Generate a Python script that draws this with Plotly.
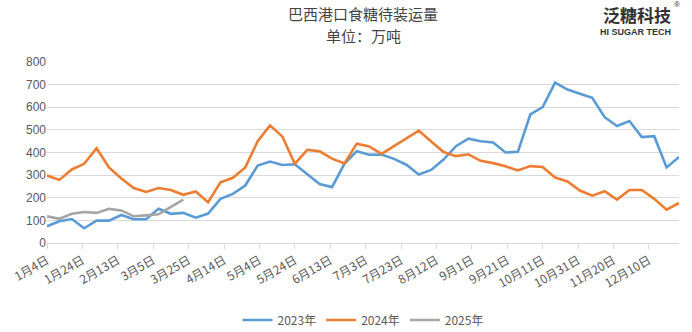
import pandas as pd
import plotly.graph_objects as go

# ---- data ----
start_date = "2023-01-04"
y2023 = [74, 96, 106, 65, 99, 99, 124, 105, 105, 151, 129, 133, 112, 130, 195, 217, 254,
         342, 360, 345, 348, 304, 261, 247, 350, 406, 390, 391, 372, 346, 303, 323, 369,
         428, 461, 450, 444, 400, 403, 568, 601, 709, 678, 660, 642, 556, 517, 539, 468,
         472, 334, 380]
y2024 = [298, 279, 325, 350, 419, 334, 285, 243, 226, 243, 234, 213, 228, 180, 268, 288,
         334, 450, 520, 470, 350, 412, 405, 373, 352, 439, 427, 394, 428, 463, 497, 449,
         402, 384, 392, 363, 353, 339, 321, 340, 336, 289, 272, 232, 209, 229, 192, 234,
         234, 195, 147, 177]
y2025 = [118, 107, 129, 137, 133, 151, 144, 118, 122, 127, 160, 192]
series_names = ["2023年", "2024年", "2025年"]
tick_labels = ["1月4日", "1月24日", "2月13日", "3月5日", "3月25日", "4月14日", "5月4日",
               "5月24日", "6月13日", "7月3日", "7月23日", "8月12日", "9月1日", "9月21日",
               "10月11日", "10月31日", "11月20日", "12月10日"]
y_ticks = [0, 100, 200, 300, 400, 500, 600, 700, 800]
title_text = "巴西港口食糖待装运量"
subtitle_text = "单位：万吨"

dates = pd.date_range(start_date, periods=len(y2023), freq="7D")
tick_dates = pd.date_range(start_date, periods=len(tick_labels), freq="20D")

colors = ["#5B9BD5", "#ED7D31", "#A5A5A5"]
font_cjk = "Noto Sans CJK SC"

fig = go.Figure()
for name, ys, c in zip(series_names, [y2023, y2024, y2025], colors):
    fig.add_trace(go.Scatter(x=dates[:len(ys)], y=ys, mode="lines", name=name,
                             line=dict(color=c, width=2.6)))

fig.update_layout(
    width=692, height=332,
    margin=dict(l=47, r=13, t=62, b=89, autoexpand=False),
    paper_bgcolor="white", plot_bgcolor="white",
    font=dict(family=font_cjk, color="#595959", size=12),
    showlegend=True,
    legend=dict(orientation="h", x=0.5, xanchor="center", yref="container",
                y=0.036, yanchor="middle",
                font=dict(size=12, color="#595959", family=font_cjk),
                itemwidth=30, tracegroupgap=0),
    xaxis=dict(range=[dates[0], dates[-1]], tickmode="array", automargin=False,
               tickvals=list(tick_dates), ticktext=tick_labels, tickangle=-30,
               showgrid=False, showline=True, linecolor="#d9d9d9", linewidth=1,
               ticks="outside", ticklen=5, tickcolor="#d9d9d9",
               tickfont=dict(size=12, color="#595959")),
    yaxis=dict(range=[0, 800], tickvals=y_ticks, showgrid=True, gridcolor="#d9d9d9",
               gridwidth=1, zeroline=False, showline=False, ticks="", automargin=False,
               tickfont=dict(size=12, color="#595959", family="Liberation Sans")),
)

fig.add_annotation(text=title_text, xref="paper", yref="paper", x=0.5, y=1,
                   xanchor="center", yanchor="middle", yshift=49, showarrow=False,
                   borderpad=0, font=dict(size=15, color="#444444", family=font_cjk))
fig.add_annotation(text=subtitle_text, xref="paper", yref="paper", x=0.5, y=1,
                   xanchor="center", yanchor="middle", yshift=27, showarrow=False,
                   borderpad=0, font=dict(size=15, color="#444444", family=font_cjk))
# logo
fig.add_annotation(text="<b>泛糖科技</b>", xref="paper", yref="paper", x=1, y=1,
                   xanchor="right", yanchor="middle", xshift=-7, yshift=48,
                   borderpad=0, showarrow=False,
                   font=dict(size=17, color="#333333", family=font_cjk))
fig.add_annotation(text="®", xref="paper", yref="paper", x=1, y=1,
                   xanchor="left", yanchor="middle", xshift=-6, yshift=58,
                   borderpad=0, showarrow=False,
                   font=dict(size=8, color="#333333", family="Liberation Sans"))
fig.add_annotation(text="<b>HI SUGAR TECH</b>", xref="paper", yref="paper", x=1, y=1,
                   xanchor="right", yanchor="middle", xshift=-7, yshift=30,
                   borderpad=0, showarrow=False,
                   font=dict(size=9, color="#333333", family="Liberation Sans"))

fig.write_html("out.html")
